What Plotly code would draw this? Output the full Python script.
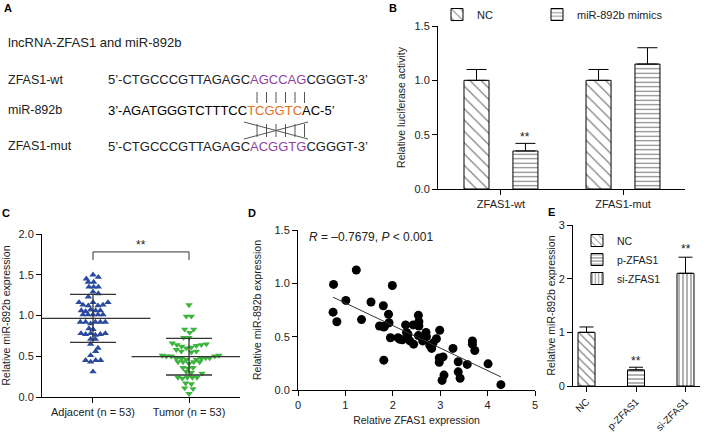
import numpy as np
import plotly.graph_objects as go

W, H = 709, 434
FONT = "Liberation Sans, Arial, sans-serif"


def px(x):
    return x / W


def py(y):
    return 1 - y / H


# ---------------- data ----------------
# Panel B: luciferase
b_groups = ["ZFAS1-wt", "ZFAS1-mut"]
b_nc = [1.0, 1.0]
b_nc_err = [0.10, 0.10]
b_mim = [0.35, 1.15]
b_mim_err = [0.07, 0.15]

# Panel C: scatter (value, horizontal spread offset)
c_groups = ["Adjacent (n = 53)", "Tumor (n = 53)"]
adj_vals = [1.50, 1.47, 1.45, 1.41, 1.41, 1.35, 1.35, 1.35, 1.29, 1.27, 1.23,
            1.16, 1.13, 1.12, 1.16, 1.12, 1.13, 1.16, 1.06, 1.05, 1.07, 1.06,
            1.06, 1.01, 1.01, 1.01, 1.01, 1.01, 0.92, 0.92, 0.90, 0.92, 0.92,
            0.92, 0.84, 0.83, 0.78, 0.77, 0.78, 0.76, 0.77, 0.78, 0.71, 0.71,
            0.65, 0.60, 0.56, 0.51, 0.45, 0.43, 0.45, 0.45, 0.31]
adj_spread = [0, 16, -20, -14, 2, -12, 2, 16, 0, 16, -14,
              -42, -30, -14, 0, 15, 30, 45, -35, -22, -7, 8,
              22, -30, -15, 0, 15, 30, -38, -22, -7, 7, 22,
              37, -12, 0, -36, -22, -7, 7, 22, 37, -7, 7,
              -7, 15, 8, -7, -22, -7, 8, 23, 0]
tum_vals = [1.13, 0.99, 0.99, 0.83, 0.79, 0.83, 0.73, 0.73, 0.66, 0.64, 0.62,
            0.60, 0.61, 0.63, 0.64, 0.65, 0.58, 0.56, 0.55, 0.56, 0.51, 0.50,
            0.50, 0.47, 0.47, 0.46, 0.46, 0.47, 0.48, 0.48, 0.50, 0.51, 0.43,
            0.43, 0.41, 0.43, 0.43, 0.36, 0.35, 0.36, 0.31, 0.30, 0.24, 0.23,
            0.24, 0.24, 0.24, 0.29, 0.17, 0.16, 0.11, 0.10, 0.04]
tum_spread = [0, -8, 7, -13, 2, 14, -16, 0, -50, -36, -22,
              -8, 7, 22, 37, 52, -38, -23, 7, 22, -80, -68,
              -53, -38, -23, -8, 22, 37, 50, 62, 77, 90, -33,
              -18, 0, 14, 32, -18, -3, 12, -8, 7, -33, -20,
              -5, 10, 24, 39, -10, 7, -13, 12, 0]
c_mean = [0.965, 0.495]
c_sd = [0.295, 0.225]

# Panel D: correlation
d_x = [0.75, 0.74, 0.82, 1.01, 1.23, 1.34, 1.54, 1.80, 1.72, 1.81, 1.91,
       1.92, 1.81, 1.99, 1.95, 2.11, 2.15, 2.27, 2.29, 2.32, 2.36, 2.44,
       2.43, 2.54, 2.55, 2.55, 2.54, 2.63, 2.70, 2.71, 2.78, 2.82, 2.85,
       2.92, 2.99, 3.06, 2.98, 2.98, 3.08, 3.04, 3.27, 3.38, 3.38, 3.42,
       3.57, 3.68, 3.68, 3.73, 4.01, 4.28, 2.20, 2.65, 1.83]
d_y = [0.99, 0.73, 0.64, 0.84, 1.125, 0.66, 0.825, 0.79, 0.60, 0.59, 0.71,
       0.63, 0.28, 0.98, 0.49, 0.49, 0.475, 0.61, 0.54, 0.52, 0.46, 0.43,
       0.61, 0.70, 0.64, 0.60, 0.51, 0.46, 0.54, 0.50, 0.42, 0.39, 0.44,
       0.48, 0.56, 0.31, 0.30, 0.26, 0.14, 0.09, 0.39, 0.265, 0.17, 0.11,
       0.24, 0.46, 0.43, 0.37, 0.245, 0.05, 0.47, 0.48, 0.60]

# Panel E
e_groups = ["NC", "p-ZFAS1", "si-ZFAS1"]
e_vals = [1.0, 0.30, 2.10]
e_err = [0.10, 0.05, 0.30]

fig = go.Figure()

bar_line = dict(color="black", width=1)

# ---------------- Panel B ----------------
fig.add_trace(go.Bar(
    x=[0, 1], y=b_nc, width=0.205, offset=-0.303, name="NC",
    marker=dict(color="white", line=bar_line,
                pattern=dict(shape="\\", fgcolor="black", size=8, solidity=0.15)),
    error_y=dict(type="data", symmetric=False, array=b_nc_err, arrayminus=[0, 0],
                 color="black", thickness=1, width=10),
    xaxis="x", yaxis="y", legend="legend"))
fig.add_trace(go.Bar(
    x=[0, 1], y=b_mim, width=0.205, offset=0.098, name="miR-892b mimics",
    marker=dict(color="white", line=bar_line,
                pattern=dict(shape="-", fgcolor="black", size=4.5, solidity=0.25)),
    error_y=dict(type="data", symmetric=False, array=b_mim_err, arrayminus=[0, 0],
                 color="black", thickness=1, width=10),
    xaxis="x", yaxis="y", legend="legend3"))

# ---------------- Panel C ----------------
adj_x = [0 + s / 288 for s in adj_spread]
tum_x = [1 + s / 288 for s in tum_spread]
fig.add_trace(go.Scatter(
    x=adj_x, y=adj_vals, mode="markers", showlegend=False,
    marker=dict(symbol="triangle-up", size=6.5, color="#2a4a9e"),
    xaxis="x2", yaxis="y2"))
fig.add_trace(go.Scatter(
    x=tum_x, y=tum_vals, mode="markers", showlegend=False,
    marker=dict(symbol="triangle-down", size=6.5, color="#3db43d"),
    xaxis="x2", yaxis="y2"))
fig.add_trace(go.Scatter(
    x=[0, 1], y=c_mean, mode="markers", showlegend=False,
    marker=dict(symbol="line-ew", size=82, line=dict(color="#333333", width=1.3)),
    error_y=dict(type="data", array=c_sd, color="#333333", thickness=1.3, width=23),
    xaxis="x2", yaxis="y2"))

# ---------------- Panel D ----------------
fig.add_trace(go.Scatter(
    x=d_x, y=d_y, mode="markers", showlegend=False,
    marker=dict(symbol="circle", size=9, color="black"),
    xaxis="x3", yaxis="y3"))
k, b0 = np.polyfit(d_x, d_y, 1)
lx = np.array([min(d_x), max(d_x)])
fig.add_trace(go.Scatter(
    x=lx, y=k * lx + b0, mode="lines", showlegend=False,
    line=dict(color="#333333", width=1),
    xaxis="x3", yaxis="y3"))

# ---------------- Panel E ----------------
e_patterns = [dict(shape="\\", size=6, solidity=0.2),
              dict(shape="-", size=4, solidity=0.3),
              dict(shape="|", size=4, solidity=0.3)]
for i, (g, v, e, p) in enumerate(zip(e_groups, e_vals, e_err, e_patterns)):
    fig.add_trace(go.Bar(
        x=[i], y=[v], width=0.343, offset=-0.1715, name=g,
        marker=dict(color="white", line=bar_line,
                    pattern=dict(fgcolor="black", **p)),
        error_y=dict(type="data", symmetric=False, array=[e], arrayminus=[0],
                     color="black", thickness=1, width=7),
        xaxis="x4", yaxis="y4", legend="legend2"))

# ---------------- axes ----------------
ax = dict(showline=True, linecolor="black", linewidth=1, ticks="outside",
          ticklen=5, tickcolor="black", showgrid=False, zeroline=False,
          tickfont=dict(size=11, color="#222"), fixedrange=True, automargin=False)
title_font = dict(size=10.5, color="#222")

fig.update_layout(
    xaxis=dict(ax, domain=[px(438), px(685)], range=[-0.516, 1.508],
               tickvals=[0, 1], ticktext=b_groups, anchor="y"),
    yaxis=dict(ax, domain=[py(189), py(26)], range=[0, 1.5],
               tickvals=[0, 0.5, 1, 1.5], ticktext=["0.0", "0.5", "1.0", "1.5"],
               anchor="x", title=dict(text="Relative luciferase activity",
                                      font=title_font, standoff=6)),
    xaxis2=dict(ax, domain=[px(42), px(240)], range=[-0.531, 1.531],
                tickvals=[0, 1], ticktext=c_groups, anchor="y2"),
    yaxis2=dict(ax, domain=[py(397), py(234)], range=[0, 2],
                tickvals=[0, 0.5, 1, 1.5, 2],
                ticktext=["0.0", "0.5", "1.0", "1.5", "2.0"], anchor="x2",
                title=dict(text="Relative miR-892b expression", font=title_font,
                           standoff=6)),
    xaxis3=dict(ax, domain=[px(298), px(535)], range=[0, 5], dtick=1,
                anchor="y3", title=dict(text="Relative ZFAS1 expression",
                                        font=title_font, standoff=6)),
    yaxis3=dict(ax, domain=[py(390), py(230)], range=[0, 1.5],
                tickvals=[0, 0.5, 1, 1.5], ticktext=["0.0", "0.5", "1.0", "1.5"],
                anchor="x3", title=dict(text="Relative miR-892b expression",
                                        font=title_font, standoff=10)),
    xaxis4=dict(ax, domain=[px(573), px(700)], range=[-0.273, 2.293],
                tickvals=[0, 1, 2], ticktext=e_groups, tickangle=-45,
                tickfont=dict(size=10, color="#222"), anchor="y4"),
    yaxis4=dict(ax, domain=[py(386), py(225)], range=[0, 3],
                tickvals=[0, 1, 2, 3], anchor="x4",
                title=dict(text="Relative miR-892b expression", font=title_font,
                           standoff=0)),
)

leg_common = dict(xanchor="left", yanchor="top", bgcolor="rgba(0,0,0,0)",
                  itemwidth=30, borderwidth=0)
fig.update_layout(
    width=W, height=H, margin=dict(l=0, r=0, t=0, b=0, autoexpand=False),
    paper_bgcolor="white", plot_bgcolor="white",
    font=dict(family=FONT, color="#222", size=11),
    barmode="overlay",
    legend=dict(leg_common, orientation="v", x=px(437), y=1.0,
                font=dict(size=11)),
    legend3=dict(leg_common, orientation="v", x=px(537), y=1.0,
                 font=dict(size=11)),
    legend2=dict(leg_common, orientation="v", x=px(577), y=py(226),
                 font=dict(size=10.5)),
)

# ---------------- annotations ----------------
ann = []


def text(x, y, s, size=13, color="#222", xanchor="left", **kw):
    ann.append(dict(x=px(x), y=py(y), xref="paper", yref="paper", text=s,
                    showarrow=False, xanchor=xanchor, yanchor="middle",
                    font=dict(size=size, color=color, family=FONT), **kw))


PURPLE = "#8f3f9f"
ORANGE = "#e2702a"
for lab, xx, yy in [("A", 8, 8), ("B", 393, 8), ("C", 6, 213), ("D", 252, 213), ("E", 551, 212)]:
    text(xx, yy, "<b>%s</b>" % lab, size=11, xanchor="center", color="black")

text(6, 43, "lncRNA-ZFAS1 and miR-892b", size=13)
text(6, 80, "ZFAS1-wt", size=12.5)
text(6, 110, "miR-892b", size=12.5)
text(6, 146, "ZFAS1-mut", size=12.5)
text(106, 80, "5’-CTGCCCGTTAGAGC<span style='color:%s'>AGCCAG</span>CGGGT-3’" % PURPLE, size=13)
text(106, 110, "3’-AGATGGGTCTTTCC<span style='color:%s'>TCGGTC</span>AC-5’" % ORANGE, size=13, color="black")
text(106, 146, "5’-CTGCCCGTTAGAGC<span style='color:%s'>ACGGTG</span>CGGGT-3’" % PURPLE, size=13)

# stars and stats
ann.append(dict(x=0.2, y=0.48, xref="x", yref="y", text="**", showarrow=False,
                font=dict(size=12, color="#222"), yanchor="middle"))
ann.append(dict(x=0.5, y=1.87, xref="x2", yref="y2", text="**", showarrow=False,
                font=dict(size=12, color="#222"), yanchor="middle"))
ann.append(dict(x=1, y=0.47, xref="x4", yref="y4", text="**", showarrow=False,
                font=dict(size=12, color="#222"), yanchor="middle"))
ann.append(dict(x=2, y=2.55, xref="x4", yref="y4", text="**", showarrow=False,
                font=dict(size=12, color="#222"), yanchor="middle"))
ann.append(dict(x=0.2, y=1.43, xref="x3", yref="y3",
                text="<i>R</i> = –0.7679, <i>P</i> &lt; 0.001", showarrow=False,
                xanchor="left", yanchor="middle", font=dict(size=12, color="#222")))
fig.update_layout(annotations=ann)

# ---------------- shapes (pairing lines, bracket) ----------------
shapes = []
pair_x = [257, 266.5, 276, 285.5, 295, 304.5]
for xx in pair_x:
    shapes.append(dict(type="line", xref="paper", yref="paper",
                       x0=px(xx), x1=px(xx), y0=py(92), y1=py(103),
                       line=dict(color="#555", width=1)))
    shapes.append(dict(type="line", xref="paper", yref="paper",
                       x0=px(xx), x1=px(xx), y0=py(124), y1=py(137),
                       line=dict(color="#555", width=1)))
shapes.append(dict(type="line", xref="paper", yref="paper", x0=px(244), x1=px(308),
                   y0=py(122), y1=py(139), line=dict(color="#555", width=1)))
shapes.append(dict(type="line", xref="paper", yref="paper", x0=px(244), x1=px(308),
                   y0=py(139), y1=py(122), line=dict(color="#555", width=1)))
shapes.append(dict(type="path", xref="x2", yref="y2",
                   path="M0,1.68 L0,1.78 L1,1.78 L1,1.68",
                   line=dict(color="#333", width=1)))
fig.update_layout(shapes=shapes)

fig.write_html("out.html", config={"displayModeBar": False},
               post_script="document.body.style.margin='0px';document.body.style.padding='0px';")
